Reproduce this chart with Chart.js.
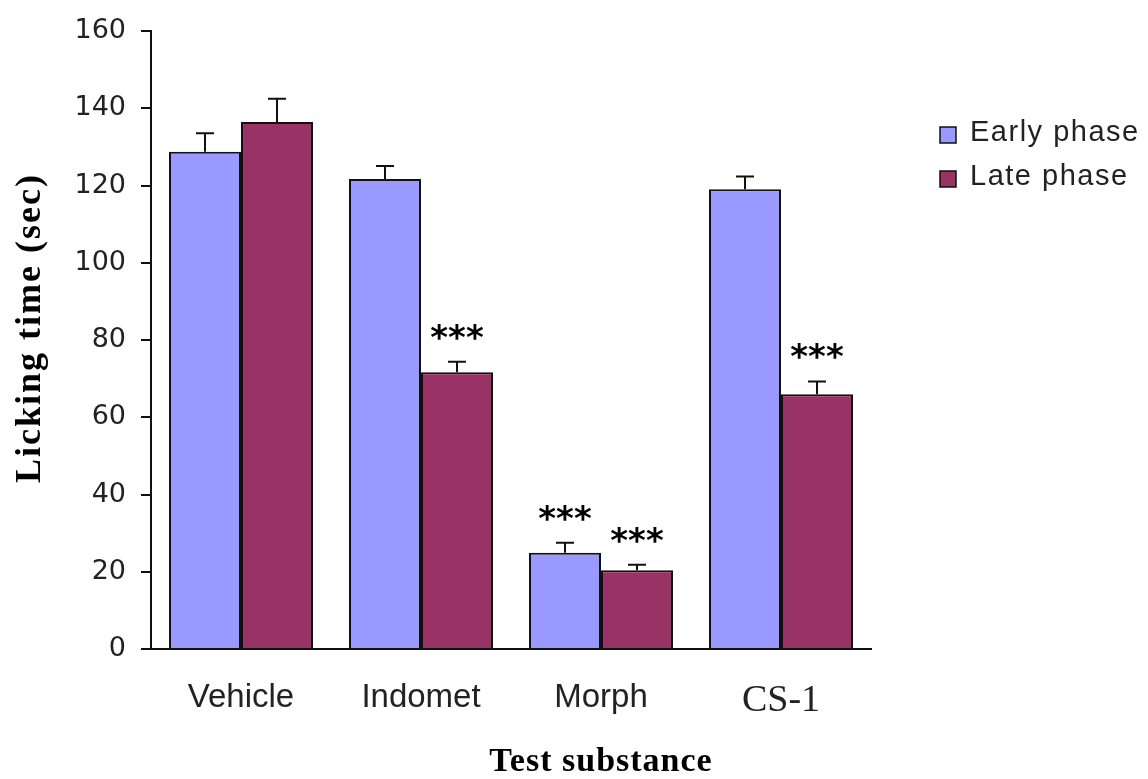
<!DOCTYPE html>
<html>
<head>
<meta charset="utf-8">
<script src="https://cdn.jsdelivr.net/npm/chart.js@4.4.1/dist/chart.umd.min.js"></script>
<style>
  html, body { margin: 0; padding: 0; background: #fff; }
  canvas { display: block; }
</style>
</head>
<body>
<canvas id="chart" width="1148" height="779"></canvas>
<script>
// Licking time per test substance, early and late phase (mean ± SEM)
const categories = ['Vehicle', 'Indomet', 'Morph', 'CS-1'];
const seriesNames = ['Early phase', 'Late phase'];
const earlyPhase = [128.8, 121.7, 24.9, 119.1];
const latePhase = [136.5, 71.7, 20.4, 66.0];
const earlyError = [4.8, 3.4, 2.6, 3.3];
const lateError = [6.0, 2.7, 1.4, 3.3];
const earlySignif = ['', '', '***', ''];
const lateSignif = ['', '***', '***', '***'];
const yMin = 0, yMax = 160, yStep = 20;
const xTitle = 'Test substance';
const yTitle = 'Licking time (sec)';

const earlyColor = '#9999FF';
const lateColor = '#993366';

// Error bars and significance stars on top of each bar
const errorBars = {
  id: 'errorBars',
  afterDatasetsDraw(chart) {
    const { ctx } = chart;
    const y = chart.scales.y;
    chart.data.datasets.forEach((ds, di) => {
      const meta = chart.getDatasetMeta(di);
      meta.data.forEach((bar, i) => {
        const top = y.getPixelForValue(ds.data[i] + ds.errors[i]);
        ctx.save();
        ctx.strokeStyle = '#111';
        ctx.lineWidth = 2;
        ctx.beginPath();
        ctx.moveTo(bar.x, bar.y);
        ctx.lineTo(bar.x, top);
        ctx.moveTo(bar.x - 9, top);
        ctx.lineTo(bar.x + 9, top);
        ctx.stroke();
        const mark = ds.marks[i];
        if (mark) {
          ctx.font = 'bold 34px "DejaVu Sans"';
          ctx.fillStyle = '#000';
          ctx.textAlign = 'center';
          ctx.textBaseline = 'alphabetic';
          const m = ctx.measureText(mark);
          const cy = top - 30;
          ctx.fillText(mark, bar.x, cy + (m.actualBoundingBoxAscent - m.actualBoundingBoxDescent) / 2);
        }
        ctx.restore();
      });
    });
  }
};

// Axis titles (serif, bold) and the legend on the right side
const annotations = {
  id: 'annotations',
  afterDraw(chart) {
    const { ctx } = chart;

    ctx.save();
    ctx.fillStyle = '#000';
    ctx.font = 'bold 34px "Liberation Serif", serif';
    ctx.letterSpacing = '1px';
    ctx.textAlign = 'center';
    ctx.textBaseline = 'alphabetic';
    ctx.fillText(xTitle, 601, 771);
    ctx.restore();

    ctx.save();
    ctx.fillStyle = '#000';
    ctx.font = 'bold 36px "Liberation Serif", serif';
    ctx.letterSpacing = '2px';
    ctx.translate(40, 328);
    ctx.rotate(-Math.PI / 2);
    ctx.textAlign = 'center';
    ctx.textBaseline = 'alphabetic';
    ctx.fillText(yTitle, 0, 0);
    ctx.restore();

    const rows = [127, 171];
    chart.data.datasets.forEach((ds, di) => {
      const top = rows[di];
      ctx.save();
      ctx.fillStyle = ds.backgroundColor;
      ctx.fillRect(940, top, 16, 16);
      ctx.strokeStyle = '#111';
      ctx.lineWidth = 1.5;
      ctx.strokeRect(940, top, 16, 16);
      ctx.font = '29px "Liberation Sans", sans-serif';
      ctx.letterSpacing = '1.5px';
      ctx.fillStyle = '#222';
      ctx.textAlign = 'left';
      ctx.textBaseline = 'alphabetic';
      ctx.fillText(ds.label, 970, top + 14);
      ctx.restore();
    });
  }
};

new Chart(document.getElementById('chart'), {
  type: 'bar',
  data: {
    labels: categories,
    datasets: [
      {
        label: seriesNames[0],
        data: earlyPhase,
        errors: earlyError,
        marks: earlySignif,
        backgroundColor: earlyColor,
        borderColor: '#111',
        borderWidth: 2,
        categoryPercentage: 0.8,
        barPercentage: 1.0
      },
      {
        label: seriesNames[1],
        data: latePhase,
        errors: lateError,
        marks: lateSignif,
        backgroundColor: lateColor,
        borderColor: '#111',
        borderWidth: 2,
        categoryPercentage: 0.8,
        barPercentage: 1.0
      }
    ]
  },
  options: {
    responsive: false,
    devicePixelRatio: 1,
    animation: false,
    layout: { padding: { top: 28, right: 277, left: 0, bottom: 0 } },
    plugins: {
      legend: { display: false },
      tooltip: { enabled: false }
    },
    scales: {
      x: {
        grid: { display: false, drawTicks: false },
        border: { display: true, color: '#111', width: 2 },
        ticks: {
          padding: 29,
          color: '#222',
          font: (c) => categories[c.index] === 'CS-1'
            ? { family: '"Liberation Serif", serif', size: 38 }
            : { family: '"Liberation Sans", sans-serif', size: 33 }
        },
        afterFit(scale) { scale.height = 130; }
      },
      y: {
        min: yMin,
        max: yMax,
        ticks: {
          stepSize: yStep,
          padding: 15,
          color: '#222',
          font: { family: '"DejaVu Sans", sans-serif', size: 27 }
        },
        grid: { drawOnChartArea: false, drawTicks: true, tickLength: 10, color: '#111', lineWidth: 2 },
        border: { display: true, color: '#111', width: 2 },
        afterFit(scale) { scale.width = 151; }
      }
    }
  },
  plugins: [errorBars, annotations]
});
</script>
</body>
</html>
